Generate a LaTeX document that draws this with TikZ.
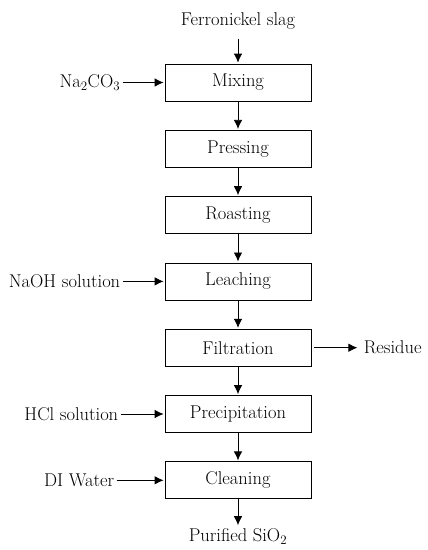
\documentclass[tikz,border=0pt]{standalone}
\usepackage{tikz}
\usetikzlibrary{arrows.meta,positioning}

\begin{document}
\begin{tikzpicture}[x=1pt,y=1pt,->,>={Latex[length=9pt,width=8.5pt]},shorten >=1pt,line width=0.8pt,node distance=28.5pt,font=\fontsize{18.5}{22}\selectfont]
        \tikzstyle{process} = [rectangle, draw, minimum width=146pt, minimum height=37pt, text centered]
        \tikzstyle{feed} = [inner sep=2pt]
        \useasboundingbox (0,0) rectangle (428,-550);

        % Nodes
        \node[process] (mix) at (238,-82.5) {Mixing};
        \node[process, below=of mix] (press) {Pressing};
        \node[process, below=of press] (roast) {Roasting};
        \node[process, below=of roast] (leach) {Leaching};
        \node[process, below=of leach] (filt) {Filtration};
        \node[process, below=of filt] (precip) {Precipitation};
        \node[process, below=of precip] (clean) {Cleaning};
        \node[feed, above=32pt of mix] (slag) {Ferronickel slag};
        \node[feed, below=27pt of clean] (sio2) {Purified SiO\textsubscript{2}};
        \node[feed, left=42pt of mix] (na2co3) {Na\textsubscript{2}CO\textsubscript{3}};
        \node[feed, left=42pt of leach] (naoh) {NaOH solution};
        \node[feed, left=44pt of precip] (hcl) {HCl solution};
        \node[feed, left=48pt of clean] (water) {DI Water};
        \node[feed, right=50pt of filt] (residue) {Residue};

        % Edges
        \path (slag) edge[shorten <=7pt] (mix);
        \path (mix) edge (press);
        \path (press) edge (roast);
        \path (roast) edge (leach);
        \path (leach) edge (filt);
        \path (filt) edge (precip);
        \path (precip) edge (clean);
        \path (clean) edge (sio2);
        \path (na2co3) edge (mix);
        \path (naoh) edge (leach);
        \path (hcl) edge (precip);
        \path (water) edge (clean);
        \path (filt) edge[shorten <=3pt, shorten >=4pt] (residue);
    \end{tikzpicture}
\end{document}
